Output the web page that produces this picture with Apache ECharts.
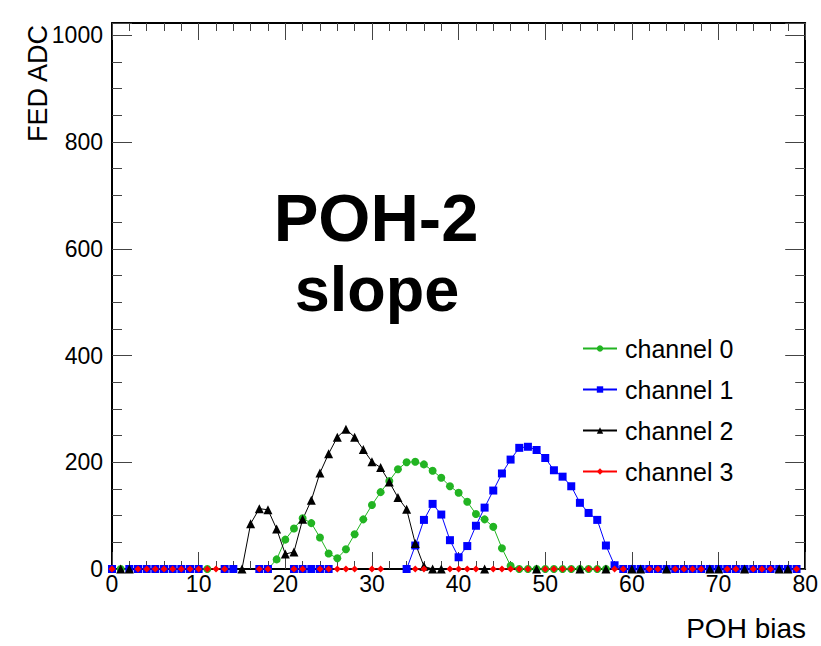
<!DOCTYPE html>
<html>
<head>
<meta charset="utf-8">
<script src="https://cdn.jsdelivr.net/npm/echarts@6/dist/echarts.min.js"></script>
<style>
html,body{margin:0;padding:0;background:#fff;}
#chart{width:821px;height:646px;}
</style>
</head>
<body>
<div id="chart"></div>
<script>
// POH bias values 0..79
const xValues = Array.from({length: 80}, (_, i) => i);

const seriesNames = ['channel 0', 'channel 1', 'channel 2', 'channel 3'];

// null = no point drawn at this bias (point outside visible range)
const channel0 = [
  null, 0, null, null, null, null, null, null, null, null,
  null, 0, null, null, null, null, null, null, 0, 18,
  55, 76, 95, 86, 59, 29, 20, 37, 65, 93,
  120, 144, 165, 187, 200, 201, 196, 184, 171, 155,
  143, 126, 103, 93, 79, 39, 6, 0, 0, 0,
  0, 0, 0, 0, 0, 0, 0, 0, null, null,
  null, null, null, null, null, null, null, null, null, null,
  null, null, null, null, null, null, null, null, null, null
];
const channel1 = [
  0, null, 0, 0, 0, 0, 0, 0, 0, 0,
  0, null, null, 0, 0, null, null, 0, 0, null,
  null, 0, 0, 0, 0, 0, null, null, null, null,
  null, null, null, null, 0, 44, 92, 122, 102, 54,
  22, 43, 81, 115, 147, 179, 205, 227, 229, 223,
  208, 185, 173, 155, 124, 105, 92, 44, 7, 0,
  0, 0, 0, 0, 0, 0, 0, 0, 0, 0,
  0, 0, 0, 0, 0, 0, 0, 0, 0, 0
];
const channel2 = [
  null, 0, 0, null, null, null, null, null, null, null,
  null, null, null, null, null, 0, 85, 113, 111, 75,
  28, 32, 93, 129, 180, 216, 247, 262, 247, 224,
  201, 190, 163, 134, 112, 48, 5, 0, 0, null,
  null, null, null, 0, null, null, null, null, null, 0,
  null, null, null, null, 0, null, null, 0, null, null,
  0, 0, null, null, 0, null, null, null, null, 0,
  0, null, null, 0, null, null, null, 0, 0, null
];
const channel3 = [
  0, null, null, 0, 0, 0, 0, 0, 0, 0,
  0, 0, 0, 0, null, null, null, 0, 0, null,
  null, 0, 0, null, 0, 0, 0, 0, 0, null,
  0, 0, null, null, null, 0, 0, null, null, 0,
  0, 0, 0, null, 0, 0, 0, 0, 0, null,
  0, 0, 0, 0, null, 0, 0, null, 0, 0,
  null, null, 0, 0, null, 0, 0, 0, 0, null,
  null, 0, 0, null, 0, 0, 0, null, null, 0
];

const xTicks = [0, 10, 20, 30, 40, 50, 60, 70, 80];
const yTicks = [0, 200, 400, 600, 800, 1000];

const channels = [channel0, channel1, channel2, channel3];
const colors = ['#22b422', '#0000ff', '#000000', '#ff0000'];
const symbols = ['circle', 'rect', 'triangle', 'diamond'];
const symbolSizes = [8, 8, 9, 7];

const FONT = 'Liberation Sans, Arial, Helvetica, sans-serif';

const chart = echarts.init(document.getElementById('chart'), null, {renderer: 'svg'});

const grid = {left: 112, right: 14, top: 23, bottom: 77};

function xAxisCfg(pos, showLabels) {
  return {
    type: 'value', position: pos, min: xTicks[0], max: xTicks[xTicks.length - 1], interval: 10,
    axisLine: {show: true, onZero: false, lineStyle: {color: '#000', width: 2}},
    axisTick: {show: true, inside: true, length: 17, lineStyle: {color: '#444', width: 1}},
    minorTick: {show: true, splitNumber: 5, length: 8, lineStyle: {color: '#444', width: 1}},
    splitLine: {show: false},
    axisLabel: {show: showLabels, color: '#000', fontSize: 23, fontFamily: FONT, margin: 3}
  };
}
function yAxisCfg(pos, showLabels) {
  return {
    type: 'value', position: pos, min: 0, max: 1023, interval: 200,
    axisLine: {show: true, onZero: false, lineStyle: {color: '#000', width: 2}},
    axisTick: {show: true, inside: true, length: 20, lineStyle: {color: '#444', width: 1}},
    minorTick: {show: true, splitNumber: 4, length: 10, lineStyle: {color: '#444', width: 1}},
    splitLine: {show: false},
    axisLabel: {show: showLabels, color: '#000', fontSize: 23, fontFamily: FONT, margin: 9,
      showMaxLabel: false,
      formatter: v => (yTicks.indexOf(v) >= 0 ? String(v) : '')}
  };
}

const series = channels.map((vals, i) => ({
  name: seriesNames[i],
  type: 'line',
  xAxisIndex: 0, yAxisIndex: 0,
  data: xValues.map((x, k) => [x, vals[k]]),
  connectNulls: false,
  symbol: symbols[i],
  symbolSize: symbolSizes[i],
  showAllSymbol: true,
  lineStyle: {color: colors[i], width: 1},
  itemStyle: {color: colors[i], borderWidth: 0},
  emphasis: {disabled: true},
  animation: false,
  clip: true
}));

chart.setOption({
  animation: false,
  backgroundColor: '#fff',
  grid: grid,
  xAxis: [xAxisCfg('bottom', true), xAxisCfg('top', false)],
  yAxis: [yAxisCfg('left', true), yAxisCfg('right', false)],
  legend: {
    orient: 'vertical', left: 577, top: 331,
    itemWidth: 34, itemHeight: 8, itemGap: 16,
    data: seriesNames,
    textStyle: {fontSize: 25, fontFamily: FONT, color: '#000', padding: [0, 0, 0, 3]},
    inactiveColor: '#ccc'
  },
  series: series,
  graphic: [
    {type: 'text', x: 376, y: 217,
      style: {text: 'POH-2', fontSize: 67, fontWeight: 'bold', fontFamily: FONT, fill: '#000',
        textAlign: 'center', textVerticalAlign: 'middle'}},
    {type: 'text', x: 377, y: 289,
      style: {text: 'slope', fontSize: 63, fontWeight: 'bold', fontFamily: FONT, fill: '#000',
        textAlign: 'center', textVerticalAlign: 'middle'}},
    {type: 'text', x: 806, y: 628,
      style: {text: 'POH bias', fontSize: 28, fontFamily: FONT, fill: '#000',
        textAlign: 'right', textVerticalAlign: 'middle'}},
    {type: 'text', x: 38, y: 25, rotation: Math.PI / 2,
      style: {text: 'FED ADC', fontSize: 27, fontFamily: FONT, fill: '#000',
        textAlign: 'right', textVerticalAlign: 'middle'}}
  ]
});
</script>
</body>
</html>
